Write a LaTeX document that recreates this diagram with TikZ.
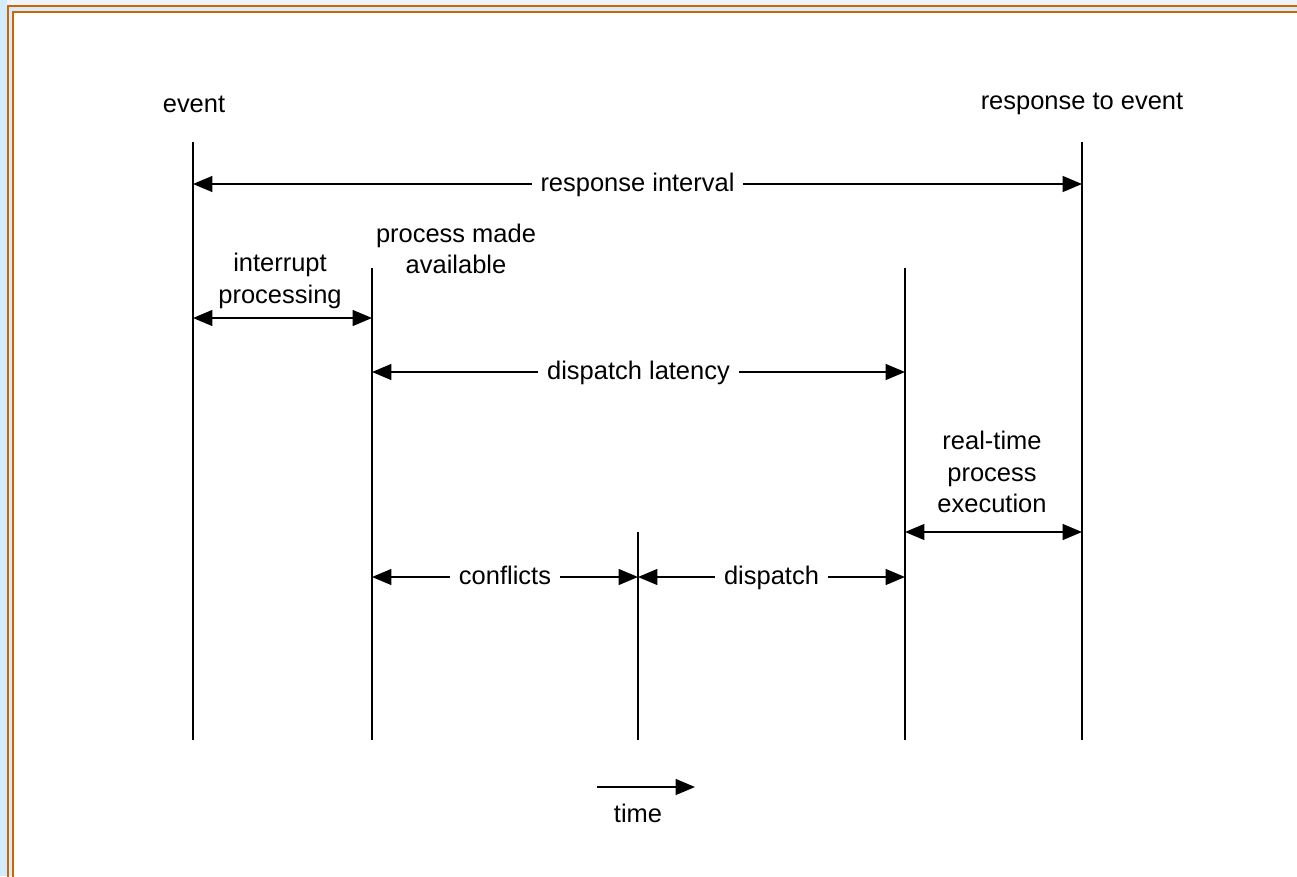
\documentclass[tikz,border=0pt]{standalone}
\usepackage{fontspec}
\setmainfont{Liberation Sans}
\usetikzlibrary{arrows.meta}
\definecolor{frameorange}{RGB}{208,100,0}
\definecolor{pageblue}{RGB}{212,236,252}
\definecolor{pagegrey}{RGB}{240,244,248}
\tikzset{
  span/.style={line width=1pt, {Triangle[length=11pt,width=9pt]}-{Triangle[length=11pt,width=9pt]}},
  label/.style={fill=white, inner sep=3pt, font=\fontsize{14.5}{18}\selectfont, align=center},
  onspan/.style={label, inner sep=5pt, text height=1.5ex, text depth=0.4ex, yshift=-1.2pt},
  tick/.style={line width=1pt}
}
\begin{document}
\begin{tikzpicture}[x=0.02cm, y=-0.02cm]
  \useasboundingbox (0,0) rectangle (1297,876);
  % page background and frame
  \fill[pageblue] (0,0) rectangle (1297,876);
  \fill[pagegrey] (7,0) rectangle (1297,5);
  \fill[white] (14,13) rectangle (1297,876);
  \begin{scope}
    \clip (0,0) rectangle (1297,876);
    \draw[frameorange, line width=1.5pt] (8,6) rectangle (1320,900);
    \draw[frameorange, line width=1.5pt] (13,12) rectangle (1320,900);
  \end{scope}

  % time lines
  \coordinate (evtop) at (193,142);   \coordinate (evbot) at (193,740);
  \coordinate (avtop) at (372,268);   \coordinate (avbot) at (372,740);
  \coordinate (cftop) at (638,532);   \coordinate (cfbot) at (638,740);
  \coordinate (rttop) at (905,268);   \coordinate (rtbot) at (905,740);
  \coordinate (rstop) at (1082,142);  \coordinate (rsbot) at (1082,740);
  \foreach \a/\b in {evtop/evbot, avtop/avbot, cftop/cfbot, rttop/rtbot, rstop/rsbot}
    \draw[tick] (\a) -- (\b);

  % labels on top
  \node[label] (event) at (194,104) {event};
  \node[label] (response) at (1082,104) {response to event};
  \node[label, fill=none] (made) at (456,249) {process made\\available};

  % spans
  \coordinate (ri1) at (193,184);  \coordinate (ri2) at (1082,184);
  \draw[span] (ri1) -- (ri2) node[onspan, midway] (rint) {response interval};

  \coordinate (ip1) at (193,318);  \coordinate (ip2) at (372,318);
  \draw[span] (ip1) -- (ip2);
  \node[label, fill=none] (intr) at (280,281) {interrupt\\processing};

  \coordinate (dl1) at (372,372);  \coordinate (dl2) at (905,372);
  \draw[span] (dl1) -- (dl2) node[onspan, midway] (dlat) {dispatch latency};

  \coordinate (rp1) at (905,532);  \coordinate (rp2) at (1082,532);
  \draw[span] (rp1) -- (rp2);
  \node[label, fill=none] (rtpe) at (992,472) {real-time\\process\\execution};

  \coordinate (cf1) at (372,577);  \coordinate (cf2) at (638,577);
  \draw[span] (cf1) -- (cf2) node[onspan, pos=0.5] (conf) {conflicts};

  \coordinate (dp1) at (638,577);  \coordinate (dp2) at (905,577);
  \draw[span] (dp1) -- (dp2) node[onspan, pos=0.5] (disp) {dispatch};

  % time arrow
  \coordinate (t1) at (597,787);  \coordinate (t2) at (695,787);
  \draw[line width=1pt, -{Triangle[length=11pt,width=9pt]}] (t1) -- (t2);
  \node[label] (time) at (638,813) {time};
\end{tikzpicture}
\end{document}
